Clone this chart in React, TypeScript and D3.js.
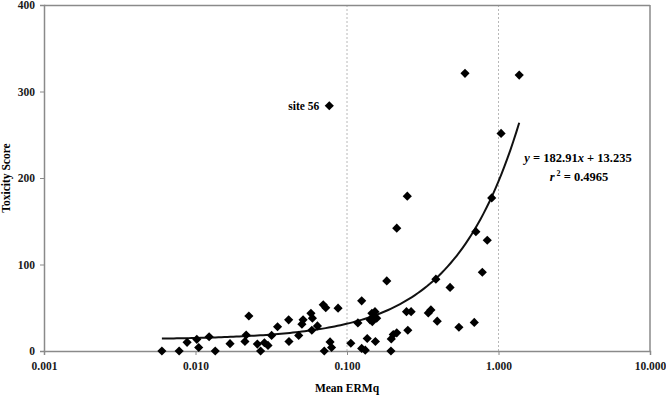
import { useEffect, useRef } from 'react';
import * as d3 from 'd3';

// Mean ERMq (x, log scale) and toxicity score (y) for each site
const ermq = [
  0.006, 0.0078, 0.0088, 0.0102, 0.0105, 0.0123, 0.0135, 0.0169, 0.0212, 0.0216,
  0.0225, 0.0256, 0.0269, 0.0285, 0.0301, 0.0318, 0.0348, 0.0412, 0.0414, 0.048,
  0.0504, 0.0513, 0.0578, 0.0591, 0.0586, 0.0638, 0.0697, 0.0724, 0.0708, 0.0773,
  0.0791, 0.0873, 0.0764, 0.106, 0.118, 0.125, 0.125, 0.132, 0.136, 0.154,
  0.146, 0.153, 0.149, 0.142, 0.157, 0.147, 0.183, 0.195, 0.196, 0.202,
  0.213, 0.213, 0.25, 0.247, 0.265, 0.252, 0.344, 0.358, 0.394, 0.386,
  0.479, 0.548, 0.601, 0.692, 0.709, 0.782, 0.843, 0.902, 1.04, 1.37,
];
const toxicity = [
  0, 0, 10, 13.5, 4, 16.5, 0, 8.5, 11, 18.5,
  40.5, 8, 0, 9.5, 6.5, 18, 28, 36, 11, 18,
  31, 36, 43.5, 38, 24, 29, 53.5, 50, 0, 10.5,
  4, 49.5, 283.5, 9, 32.5, 58, 3, 1, 14.5, 11,
  43.5, 45.5, 39.5, 36, 38, 34, 81, 0, 14, 19,
  21, 142, 179, 45.5, 45.5, 24, 44, 47.5, 34.5, 83,
  73.5, 27.5, 321, 33, 138, 91, 128, 177, 251.5, 319,
];

const xTicks = [0.001, 0.01, 0.1, 1, 10];
const yTicks = [0, 100, 200, 300, 400];
const gridX = [0.1, 1];

// linear trendline as printed on the chart
const slope = 182.91;
const intercept = 13.235;
const r2 = 0.4965;

const labelSite = { name: 'site 56', x: 0.0764, y: 283.5 };

export default function App() {
  const svgRef = useRef<SVGSVGElement>(null);

  useEffect(() => {
    if (!svgRef.current) return;
    const svg = d3.select(svgRef.current);
    svg.selectAll('*').remove();

    const width = 666;
    const height = 397;
    const margin = { top: 5, right: 16, bottom: 46, left: 44 };
    const w = width - margin.left - margin.right;
    const h = height - margin.top - margin.bottom;
    const font = "'Liberation Serif', 'Times New Roman', serif";
    const axisColor = '#8a8a8a';

    const g = svg.append('g').attr('transform', `translate(${margin.left},${margin.top})`);

    const x = d3.scaleLog().domain([0.001, 10]).range([0, w]);
    const y = d3.scaleLinear().domain([0, 400]).range([h, 0]);

    // dotted vertical gridlines
    g.selectAll('.grid')
      .data(gridX)
      .enter()
      .append('line')
      .attr('x1', d => x(d))
      .attr('x2', d => x(d))
      .attr('y1', 0)
      .attr('y2', h)
      .attr('stroke', '#b8b8b8')
      .attr('stroke-width', 1)
      .attr('stroke-dasharray', '2,2');

    // plot border top/right
    g.append('line').attr('x1', 0).attr('x2', w).attr('y1', 0.5).attr('y2', 0.5)
      .attr('stroke', axisColor).attr('stroke-width', 1.5);
    g.append('line').attr('x1', w).attr('x2', w).attr('y1', 0).attr('y2', h)
      .attr('stroke', axisColor).attr('stroke-width', 1.5);

    // x axis
    const xAxis = g.append('g')
      .attr('transform', `translate(0,${h})`)
      .call(d3.axisBottom(x).tickValues(xTicks).tickSize(4).tickFormat(d => d3.format('.3f')(d as number)));
    xAxis.select('.domain').attr('stroke', axisColor).attr('stroke-width', 1.5);
    xAxis.selectAll('line').attr('stroke', axisColor);
    xAxis.selectAll('text')
      .attr('dy', '1.05em')
      .style('font-family', font)
      .style('font-size', '11.5px')
      .style('font-weight', 'bold')
      .style('fill', '#1a1a1a');

    // y axis
    const yAxis = g.append('g')
      .call(d3.axisLeft(y).tickValues(yTicks).tickSize(4).tickPadding(5));
    yAxis.select('.domain').attr('stroke', axisColor).attr('stroke-width', 1.5);
    yAxis.selectAll('line').attr('stroke', axisColor);
    yAxis.selectAll('text')
      .style('font-family', font)
      .style('font-size', '11.5px')
      .style('font-weight', 'bold')
      .style('fill', '#1a1a1a');

    // axis titles
    svg.append('text')
      .attr('x', margin.left + x(0.1))
      .attr('y', 392)
      .attr('text-anchor', 'middle')
      .style('font-family', font)
      .style('font-size', '11.5px')
      .style('font-weight', 'bold')
      .text('Mean ERMq');

    svg.append('text')
      .attr('transform', `translate(10,${margin.top + h / 2}) rotate(-90)`)
      .attr('text-anchor', 'middle')
      .style('font-family', font)
      .style('font-size', '11.5px')
      .style('font-weight', 'bold')
      .text('Toxicity Score');

    // trendline sampled evenly along the log axis
    const xMin = d3.min(ermq) as number;
    const xMax = d3.max(ermq) as number;
    const steps = 120;
    const trend = d3.range(steps + 1).map(i =>
      Math.pow(10, Math.log10(xMin) + (Math.log10(xMax) - Math.log10(xMin)) * i / steps));
    const line = d3.line<number>()
      .x(d => x(d))
      .y(d => y(slope * d + intercept));
    g.append('path')
      .datum(trend)
      .attr('fill', 'none')
      .attr('stroke', '#111')
      .attr('stroke-width', 2)
      .attr('d', line);

    // diamond markers
    const diamond = d3.symbol(d3.symbolSquare, 42)();
    g.selectAll('.pt')
      .data(ermq.map((v, i) => [v, toxicity[i]]))
      .enter()
      .append('path')
      .attr('d', diamond)
      .attr('transform', d => `translate(${x(d[0])},${y(d[1])}) rotate(45)`)
      .attr('fill', '#000');

    // site label
    g.append('text')
      .attr('x', x(labelSite.x) - 10)
      .attr('y', y(labelSite.y) + 4)
      .attr('text-anchor', 'end')
      .style('font-family', font)
      .style('font-size', '11.5px')
      .style('font-weight', 'bold')
      .text(labelSite.name);

    // equation
    const eq = svg.append('text')
      .attr('x', 578)
      .attr('y', 162)
      .attr('text-anchor', 'middle')
      .style('font-family', font)
      .style('font-size', '12.5px')
      .style('font-weight', 'bold');
    eq.append('tspan').style('font-style', 'italic').text('y');
    eq.append('tspan').text(` = ${slope}`);
    eq.append('tspan').style('font-style', 'italic').text('x');
    eq.append('tspan').text(` + ${intercept}`);

    const rt = svg.append('text')
      .attr('x', 579)
      .attr('y', 181)
      .attr('text-anchor', 'middle')
      .style('font-family', font)
      .style('font-size', '12.5px')
      .style('font-weight', 'bold');
    rt.append('tspan').style('font-style', 'italic').text('r');
    rt.append('tspan').attr('dy', -5).style('font-size', '8px').text(' 2');
    rt.append('tspan').attr('dy', 5).text(` = ${r2}`);
  }, []);

  return (
    <div style={{ position: 'fixed', left: 0, top: 0, background: '#fff' }}>
      <svg ref={svgRef} width={666} height={397} style={{ display: 'block' }}></svg>
    </div>
  );
}
